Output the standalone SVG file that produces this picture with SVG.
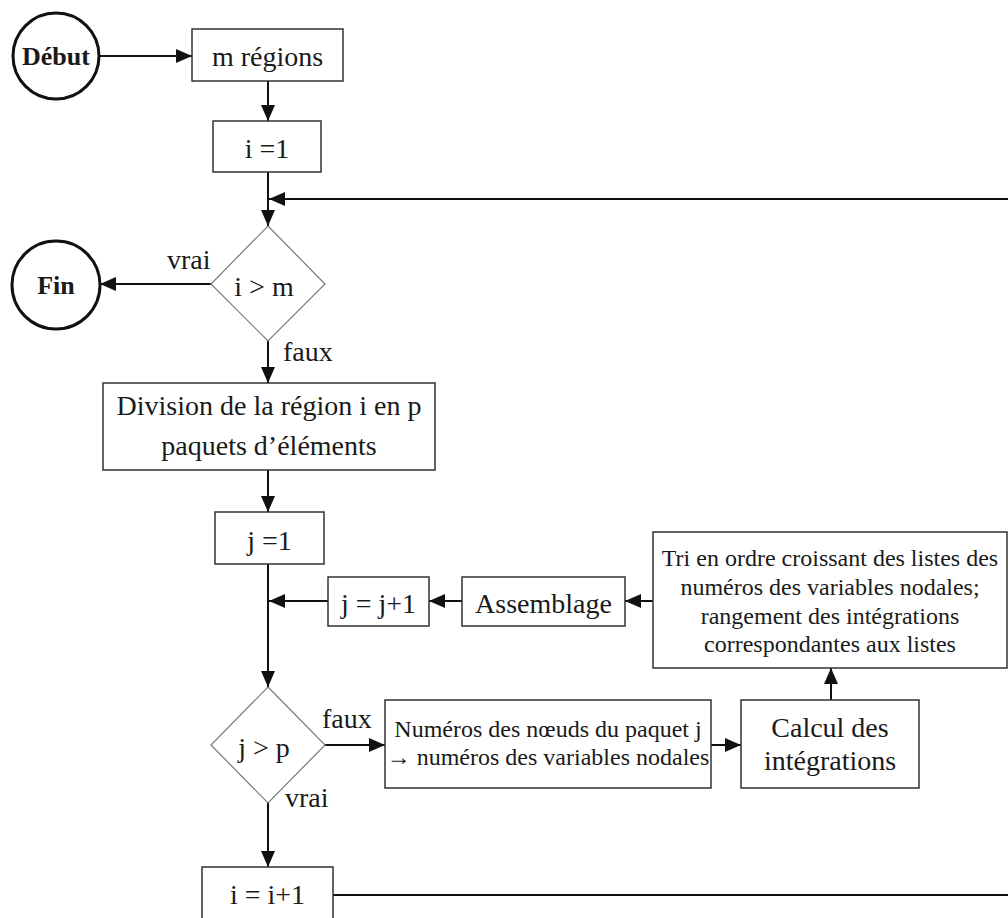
<svg xmlns="http://www.w3.org/2000/svg" width="1008" height="918" viewBox="0 0 1008 918" font-family="'Liberation Serif', 'Times New Roman', Tinos, serif">
<style>
text{font-family:'Liberation Serif','Times New Roman',Tinos,serif;fill:#1a1a1a}
.t28{font-size:28px}
.t24{font-size:24px}
.b{font-weight:bold;font-size:26px}
.box{fill:#fff;stroke:#333;stroke-width:1.5}
.dia{fill:#fff;stroke:#7a7a7a;stroke-width:1.2}
.circ{fill:#fff;stroke:#111;stroke-width:3}
.c{fill:none;stroke:#111;stroke-width:2}
.arr{marker-end:url(#ah)}
</style>
<defs>
<marker id="ah" viewBox="0 0 16 14" refX="16" refY="7" markerWidth="16" markerHeight="14" markerUnits="userSpaceOnUse" orient="auto">
<path d="M0,0 L16,7 L0,14 Z" fill="#111"/>
</marker>
</defs>
<rect width="1008" height="918" fill="#fff"/>
<g id="connectors">
<line class="c arr" x1="100" y1="56" x2="192" y2="56"/>
<line class="c arr" x1="268" y1="81" x2="268" y2="121"/>
<line class="c arr" x1="268" y1="172" x2="268" y2="226"/>
<line class="c arr" x1="1008" y1="199" x2="269" y2="199"/>
<line class="c arr" x1="211" y1="284" x2="100" y2="284"/>
<line class="c arr" x1="268" y1="341" x2="268" y2="383"/>
<line class="c arr" x1="268" y1="470" x2="268" y2="512"/>
<line class="c arr" x1="268" y1="564" x2="268" y2="687"/>
<line class="c arr" x1="328" y1="601" x2="269" y2="601"/>
<line class="c arr" x1="462" y1="601" x2="429" y2="601"/>
<line class="c arr" x1="653" y1="601" x2="625" y2="601"/>
<line class="c arr" x1="325" y1="745" x2="385" y2="745"/>
<line class="c arr" x1="711" y1="745" x2="741" y2="745"/>
<line class="c arr" x1="831" y1="700" x2="831" y2="668"/>
<line class="c arr" x1="268" y1="803" x2="268" y2="867"/>
<line class="c" x1="333" y1="895" x2="1008" y2="895"/>
<text class="t28" x="167" y="269">vrai</text>
<text class="t28" x="283" y="361">faux</text>
<text class="t28" x="322" y="728">faux</text>
<text class="t28" x="285" y="807">vrai</text>
</g>
<g id="debut">
<circle class="circ" cx="56" cy="56" r="43"/>
<text class="b" x="56" y="65" text-anchor="middle">Début</text>
</g>
<g id="m_regions">
<rect class="box" x="192" y="29" width="151" height="52"/>
<text class="t28" x="267.5" y="66" text-anchor="middle">m régions</text>
</g>
<g id="i_init">
<rect class="box" x="213" y="121" width="108" height="51"/>
<text class="t28" x="267" y="158" text-anchor="middle">i =1</text>
</g>
<g id="test_i">
<polygon class="dia" points="268,226 325,284 268,341 211,284"/>
<text class="t28" x="264" y="296" text-anchor="middle">i &gt; m</text>
</g>
<g id="fin">
<circle class="circ" cx="56" cy="285" r="44"/>
<text class="b" x="56" y="294" text-anchor="middle">Fin</text>
</g>
<g id="division">
<rect class="box" x="103" y="383" width="332" height="87"/>
<text class="t28" x="269" y="415" text-anchor="middle">Division de la région i en p</text>
<text class="t28" x="269" y="455" text-anchor="middle">paquets d’éléments</text>
</g>
<g id="j_init">
<rect class="box" x="215" y="512" width="109" height="52"/>
<text class="t28" x="269.5" y="550" text-anchor="middle">j =1</text>
</g>
<g id="j_incr">
<rect class="box" x="328" y="577" width="101" height="49"/>
<text class="t28" x="378.5" y="613" text-anchor="middle">j = j+1</text>
</g>
<g id="assemblage">
<rect class="box" x="462" y="577" width="163" height="49"/>
<text class="t28" x="543.5" y="613" text-anchor="middle">Assemblage</text>
</g>
<g id="tri">
<rect class="box" x="653" y="532" width="354" height="136"/>
<text class="t24" x="830" y="566" text-anchor="middle">Tri en ordre croissant des listes des</text>
<text class="t24" x="830" y="595" text-anchor="middle">numéros des variables nodales;</text>
<text class="t24" x="830" y="624" text-anchor="middle">rangement des intégrations</text>
<text class="t24" x="830" y="652" text-anchor="middle">correspondantes aux listes</text>
</g>
<g id="test_j">
<polygon class="dia" points="268,687 325,745 268,803 211,745"/>
<text class="t28" x="264" y="757" text-anchor="middle">j &gt; p</text>
</g>
<g id="numeros">
<rect class="box" x="385" y="700" width="326" height="88"/>
<text class="t24" x="548" y="737" text-anchor="middle">Numéros des nœuds du paquet j</text>
<text class="t24" x="548" y="765" text-anchor="middle">→ numéros des variables nodales</text>
</g>
<g id="calcul">
<rect class="box" x="741" y="700" width="178" height="88"/>
<text class="t28" x="830" y="737" text-anchor="middle">Calcul des</text>
<text class="t28" x="830" y="770" text-anchor="middle">intégrations</text>
</g>
<g id="i_incr">
<rect class="box" x="202" y="867" width="131" height="60"/>
<text class="t28" x="267.5" y="904" text-anchor="middle">i = i+1</text>
</g>
</svg>
